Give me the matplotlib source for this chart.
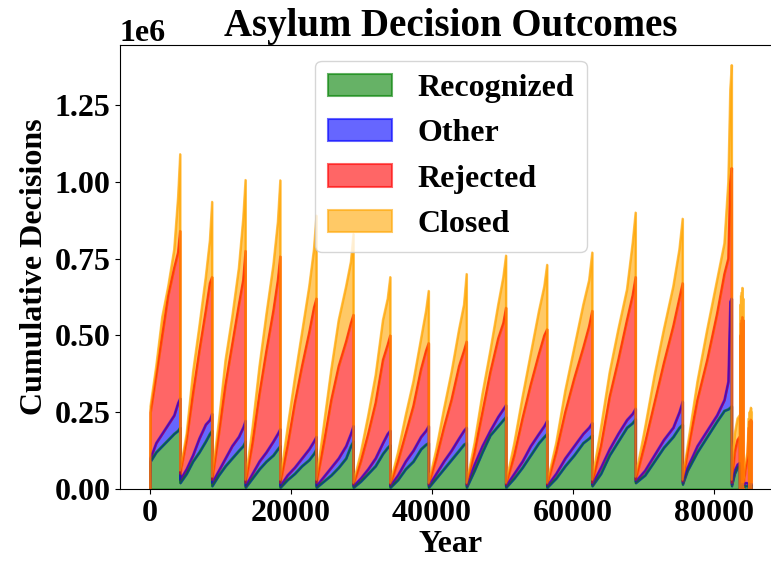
import numpy as np
import pandas as pd
import matplotlib
matplotlib.use("Agg")
import matplotlib.pyplot as plt

plt.rcParams['font.family'] = ['Liberation Serif', 'DejaVu Serif']
plt.rcParams['font.weight'] = 'bold'
plt.rcParams['axes.titleweight'] = 'bold'
plt.rcParams['axes.labelweight'] = 'bold'

# Row index of each sampled decision (x axis labelled "Year")
rows = [0,
        40, 850, 1700, 2550, 3400, 3950, 4250,
        4251, 5157, 6063, 6968, 7874, 8463, 8780,
        8781, 9729, 10677, 11624, 12572, 13188, 13520,
        13521, 14507, 15493, 16478, 17464, 18105, 18450,
        18451, 19477, 20503, 21528, 22554, 23221, 23580,
        23581, 24631, 25681, 26730, 27780, 28463, 28830,
        28831, 29875, 30919, 31962, 33006, 33685, 34050,
        34051, 35141, 36231, 37320, 38410, 39119, 39500,
        39501, 40577, 41653, 42728, 43804, 44503, 44880,
        44881, 45999, 47117, 48234, 49352, 50079, 50470,
        50471, 51637, 52803, 53968, 55134, 55892, 56300,
        56301, 57581, 58861, 60140, 61420, 62252, 62700,
        62701, 63931, 65161, 66390, 67620, 68420, 68850,
        68851, 70185, 71519, 72852, 74186, 75053, 75520,
        75521, 76217, 77609, 79001, 80392, 81436, 81993, 82271, 82480,
        82481, 82900, 83300, 83600, 83650, 83700, 83750, 83800, 83850,
        83900, 83950, 84000, 84060, 84120,
        84121, 84400, 84700, 84900, 84950, 85000, 85050, 85100, 85150,
        85200, 85250, 85300]

# Stacked cumulative levels (millions)
level_recognized = [0,
    .09, .12, .14, .16, .18, .19, .20,
    .02, .05, .09, .12, .155, .18, .19,
    .01, .045, .075, .10, .125, .14, .155,
    .005, .035, .065, .09, .11, .13, .14,
    .005, .03, .05, .075, .095, .115, .13,
    .005, .025, .045, .07, .10, .14, .155,
    .005, .025, .05, .075, .115, .135, .143,
    .005, .03, .065, .09, .13, .145, .15,
    .005, .035, .065, .095, .125, .145, .15,
    .005, .06, .12, .175, .205, .225, .235,
    .005, .035, .07, .11, .15, .17, .18,
    .005, .035, .075, .11, .15, .165, .175,
    .01, .05, .11, .155, .20, .215, .228,
    .02, .045, .09, .135, .17, .20, .21,
    .015, .06, .12, .17, .22, .255, .26, .265, .27,
    .01, .05, .07, .075, 0, .01, 0, .01, 0,
    .01, 0, .01, 0, .01,
    .005, .01, .01, .01, 0, .01, 0, .01, 0,
    .01, 0, .01]
level_other = [0,
    .10, .15, .18, .21, .24, .28, .295,
    .03, .065, .11, .165, .21, .225, .245,
    .02, .06, .10, .14, .17, .20, .222,
    .01, .05, .09, .12, .155, .18, .195,
    .01, .045, .07, .10, .13, .155, .17,
    .01, .04, .07, .10, .14, .18, .205,
    .01, .035, .065, .10, .15, .18, .19,
    .01, .045, .09, .125, .17, .19, .205,
    .01, .05, .09, .125, .165, .19, .20,
    .01, .08, .14, .19, .235, .26, .273,
    .01, .05, .09, .14, .18, .205, .222,
    .01, .05, .10, .14, .18, .20, .215,
    .015, .07, .13, .18, .225, .245, .262,
    .025, .06, .11, .16, .20, .25, .285,
    .02, .07, .14, .19, .24, .29, .35, .61, .62,
    .015, .06, .08, .085, 0, .015, 0, .015, 0,
    .015, 0, .015, 0, .015,
    .01, .02, .02, .015, 0, .015, 0, .015, 0,
    .015, 0, .015]
level_rejected = [0,
    .25, .37, .50, .63, .72, .77, .84,
    .05, .16, .31, .45, .58, .67, .69,
    .03, .18, .34, .47, .60, .68, .775,
    .02, .15, .31, .45, .58, .68, .757,
    .02, .14, .28, .40, .51, .59, .62,
    .02, .15, .29, .40, .48, .54, .567,
    .015, .09, .18, .28, .42, .47, .50,
    .015, .09, .18, .27, .39, .45, .475,
    .015, .10, .20, .29, .40, .45, .48,
    .015, .12, .25, .38, .49, .54, .59,
    .015, .11, .23, .34, .44, .50, .52,
    .015, .12, .25, .36, .46, .53, .58,
    .02, .14, .30, .42, .55, .63, .69,
    .03, .15, .28, .41, .53, .62, .67,
    .025, .12, .29, .42, .57, .70, .75, 1.0, 1.045,
    .02, .12, .16, .17, 0, .50, 0, .54, 0,
    .55, 0, .56, 0, .55,
    .015, .06, .10, .20, 0, .22, 0, .22, 0,
    .226, 0, .22]
level_closed = [0,
    .27, .40, .56, .66, .78, .95, 1.09,
    .06, .18, .38, .53, .69, .81, .935,
    .04, .22, .42, .56, .72, .88, 1.006,
    .03, .20, .40, .57, .73, .87, 1.005,
    .03, .20, .36, .51, .66, .78, .89,
    .03, .21, .39, .55, .66, .74, .83,
    .02, .12, .24, .37, .55, .62, .69,
    .02, .12, .24, .35, .49, .58, .645,
    .02, .13, .26, .38, .52, .60, .70,
    .02, .15, .31, .45, .60, .69, .76,
    .02, .15, .30, .44, .58, .66, .73,
    .02, .15, .32, .46, .60, .68, .77,
    .03, .20, .38, .52, .65, .80, .90,
    .04, .20, .37, .52, .66, .78, .88,
    .03, .14, .35, .52, .68, .80, 1.0, 1.30, 1.38,
    .03, .18, .23, .24, 0, .60, 0, .63, 0,
    .64, 0, .655, 0, .62,
    .02, .08, .12, .23, 0, .25, 0, .255, 0,
    .265, 0, .25]

categories = ['Recognized', 'Other', 'Rejected', 'Closed']
colors = ['green', 'blue', 'red', 'orange']

lv = [np.array(level_recognized), np.array(level_other),
      np.array(level_rejected), np.array(level_closed)]
series = {
    'Recognized': lv[0] * 1e6,
    'Other': (lv[1] - lv[0]) * 1e6,
    'Rejected': (lv[2] - lv[1]) * 1e6,
    'Closed': (lv[3] - lv[2]) * 1e6,
}
df = pd.DataFrame(series, index=rows)[categories]

fig = plt.figure(figsize=(7.71, 5.65), dpi=100)
ax = fig.add_axes([120 / 771, 76 / 565, 662 / 771, 444 / 565])
df.plot.area(ax=ax, alpha=0.6, color=colors, linewidth=1.5, legend=False)

ax.set_xlim(-4268, 89628)
ax.set_ylim(0, 1.445e6)
ax.set_yticks(np.arange(0, 1.26e6, 0.25e6))
ax.set_xticks([0, 20000, 40000, 60000, 80000])
ax.tick_params(labelsize=23)
ax.yaxis.get_offset_text().set_fontsize(23)

ax.set_title('Asylum Decision Outcomes', fontsize=28)
ax.set_xlabel('Year', fontsize=23, labelpad=2)
ax.set_ylabel('Cumulative Decisions', fontsize=23)

handles, labels = ax.get_legend_handles_labels()
ax.legend(handles, labels, loc='upper center', fontsize=23)

fig.savefig('out.png', dpi=100)
